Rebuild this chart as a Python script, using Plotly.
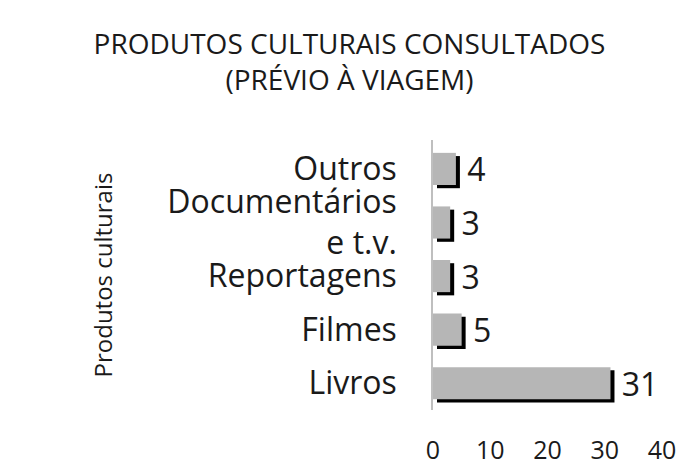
import plotly.graph_objects as go

categories = ["Livros", "Filmes", "Reportagens", "Documentários<br>e t.v.", "Outros"]
values = [31, 5, 3, 3, 4]
x_ticks = [0, 10, 20, 30, 40]

FONT = "Open Sans"
W = 0.6
shift_x = 0.7   # ~4px
shift_y = 0.06  # ~3px

fig = go.Figure()
# shadow
fig.add_trace(go.Bar(
    y=categories, x=values, base=shift_x, orientation="h",
    marker=dict(color="black", line=dict(width=0)),
    width=W, offset=-W/2 - shift_y, hoverinfo="skip", showlegend=False,
))
# main bars
fig.add_trace(go.Bar(
    y=categories, x=values, orientation="h",
    marker=dict(color="#b6b6b6", line=dict(width=0)),
    width=W, offset=-W/2,
    text=[" " + str(v) for v in values], textposition="outside",
    constraintext="none",
    textfont=dict(family=FONT, size=32, color="#1a1a1a"),
    cliponaxis=False, showlegend=False,
))

fig.update_layout(
    width=683, height=460,
    barmode="overlay",
    paper_bgcolor="white", plot_bgcolor="white",
    margin=dict(l=425, r=29, t=132, b=58, autoexpand=False),
    title=dict(
        text="PRODUTOS CULTURAIS CONSULTADOS<br>(PRÉVIO À VIAGEM)",
        x=0.5, xanchor="center", y=0.9, yanchor="top",
        font=dict(family=FONT, size=28, color="#1a1a1a"),
    ),
    font=dict(family=FONT, color="#1a1a1a"),
)
fig.update_xaxes(
    range=[0, 40], tickvals=x_ticks, showgrid=False, zeroline=False,
    showline=False, ticks="", ticklabelstandoff=23, automargin=False,
    tickfont=dict(family=FONT, size=25, color="#1a1a1a"),
)
fig.update_yaxes(
    type="category", categoryorder="array", categoryarray=categories,
    range=[-0.5, 4.54], automargin=False,
    showline=True, linecolor="#bfbfbf", linewidth=1.5, showgrid=False,
    ticks="", ticklabelstandoff=28,
    tickfont=dict(family=FONT, size=32, color="#1a1a1a"),
    title=dict(text="Produtos culturais", standoff=48,
               font=dict(family=FONT, size=24, color="#1a1a1a")),
)
fig.write_html("out.html")
